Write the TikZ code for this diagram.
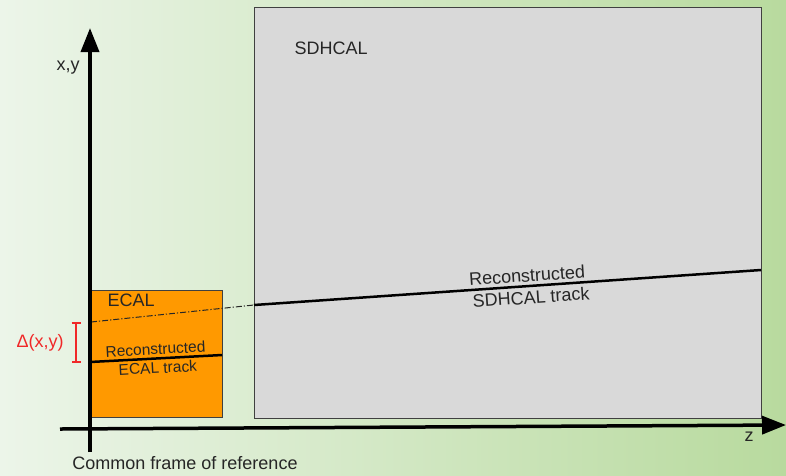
\documentclass[tikz,border=0pt]{standalone}
\usepackage{fontspec}
\setmainfont{Liberation Sans}
\usetikzlibrary{arrows.meta,positioning}
\definecolor{bgleft}{RGB}{236,245,233}
\definecolor{bgmid}{RGB}{224,239,215}
\definecolor{bgright}{RGB}{184,218,158}
\definecolor{ecalfill}{RGB}{255,153,0}
\definecolor{sdfill}{RGB}{217,217,217}
\definecolor{deltared}{RGB}{240,40,40}
\begin{document}
\begin{tikzpicture}[x=1pt,y=-1pt,
    axis/.style={line width=3.5pt,-{Triangle[width=18pt,length=24pt]}},
    detector/.style={draw=black!75,line width=0.9pt,anchor=north west,inner sep=0pt},
    track/.style={line width=2.5pt},
    lbl/.style={font=\fontsize{18}{20}\selectfont,text=black!85},
    small/.style={font=\fontsize{15.5}{17}\selectfont,text=black!85,inner sep=2.5pt}]
    \useasboundingbox (0,0) rectangle (786,475);
    \shade[left color=bgleft,middle color=bgmid,right color=bgright] (0,0) rectangle (786,475);
    % detectors
    \node[detector,fill=ecalfill,minimum width=132pt,minimum height=127pt] (ecal) at (90,290) {};
    \node[detector,fill=sdfill,minimum width=507pt,minimum height=411pt] (sdhcal) at (254,7) {};
    \node[lbl,anchor=north west] (ecalname) at (104,290) {ECAL};
    \node[lbl,anchor=north west] (sdname) at (291,38) {SDHCAL};
    % tracks
    \coordinate (sdA) at (254,305);
    \coordinate (sdB) at (761,270);
    \coordinate (ecA) at (90,362);
    \coordinate (ecB) at (222,355);
    \coordinate (extA) at (91,322);
    \draw[track] (sdA) -- (sdB)
      node[pos=0.54,sloped,above,lbl,inner sep=3pt] (sdtop) {Reconstructed}
      node[pos=0.545,sloped,below,lbl,inner sep=3.5pt] (sdbot) {SDHCAL track};
    \draw[track] (ecA) -- (ecB)
      node[pos=0.5,sloped,above,small] (ectop) {Reconstructed}
      node[pos=0.51,sloped,below,small] (ecbot) {ECAL track};
    \draw[black!85,line width=1pt,dash pattern=on 6pt off 2pt on 1.2pt off 2pt] (extA) -- (sdA);
    % offset
    \coordinate (dA) at (76,322);
    \coordinate (dB) at (76,363);
    \draw[deltared,line width=2pt,{Bar[width=9pt]}-{Bar[width=9pt]}] (dA) -- (dB)
      node[midway,left=8pt,font=\fontsize{18}{20}\selectfont,text=deltared] (delta) {Δ(x,y)};
    % axes
    \coordinate (yaxA) at (90,452);
    \coordinate (yaxB) at (90,28);
    \coordinate (zaxA) at (60,429);
    \coordinate (zaxB) at (786,425);
    \draw[axis] (yaxA) -- (yaxB);
    \draw[axis] (zaxA) -- (zaxB);
    \node[lbl] (xylbl) at (68,68) {x,y};
    \node[lbl] (zlbl) at (749,437) {z};
    \node[lbl] (frame) at (185,463) {Common frame of reference};
  \end{tikzpicture}
\end{document}
